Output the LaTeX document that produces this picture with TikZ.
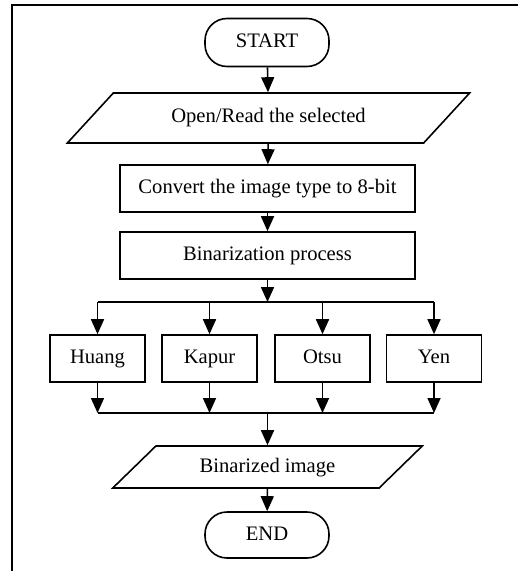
\documentclass[tikz,border=0pt]{standalone}
\usepackage{fontspec}
\setmainfont{Liberation Serif}
\usetikzlibrary{arrows.meta,shapes.geometric}

\tikzset{
  term/.style={draw, thick, rounded corners=11pt, minimum width=62pt, minimum height=24pt, inner sep=0pt, text height=7pt, text depth=2pt},
  iobox/.style={draw, thick, trapezium, trapezium stretches=true, inner sep=0pt, text height=7pt, text depth=2pt},
  procbox/.style={draw, thick, minimum width=147.5pt, minimum height=23.5pt, inner sep=0pt, text height=7pt, text depth=2pt},
  methbox/.style={draw, thick, minimum width=47.5pt, minimum height=23.5pt, inner sep=0pt, text height=7pt, text depth=2pt},
  arr/.style={thick, -{Triangle[length=7.5pt,width=6.5pt]}}
}

\begin{document}
\begin{tikzpicture}[x=0.5pt,y=-0.5pt,font=\fontsize{10.3}{12}\selectfont]
\useasboundingbox (0,0) rectangle (518,571);

% frame
\draw [line width=1pt] (12,571) -- (12,5) -- (518,5);

\node [term] (start) at (267,42.5) {START};
\node [iobox, trapezium left angle=32, trapezium right angle=148,
       minimum width=201.5pt, minimum height=25pt] (read) at (268.5,118) {Open/Read the selected};
\node [procbox] (conv) at (267.5,188.5) {Convert the image type to 8-bit};
\node [procbox] (bin) at (267.5,255.5) {Binarization process};

\node [methbox] (huang) at (97.5,358.5) {Huang};
\node [methbox] (kapur) at (209.5,358.5) {Kapur};
\node [methbox] (otsu) at (322.5,358.5) {Otsu};
\node [methbox] (yen) at (434,358.5) {Yen};

\node [iobox, trapezium left angle=34.5, trapezium right angle=145.5,
       minimum width=155.5pt, minimum height=21pt] (out) at (267.5,467) {Binarized image};
\node [term, minimum height=23pt] (end) at (267,535) {END};

\coordinate (split) at (267.5,302);
\coordinate (merge) at (267.5,413);

\draw [arr] (start) -- (read);
\draw [arr] (read) -- (conv);
\draw [arr] (conv) -- (bin);
\draw [arr] (bin) -- (split);

\draw [thick] (huang |- split) -- (yen |- split);
\draw [thick] (huang |- merge) -- (yen |- merge);
\foreach \m in {huang,kapur,otsu,yen}
{
\draw [arr] (\m |- split) -- (\m);
\draw [arr] (\m) -- (\m |- merge);
}

\draw [arr] (merge) -- (out);
\draw [arr] (out) -- (end);
\end{tikzpicture}
\end{document}
